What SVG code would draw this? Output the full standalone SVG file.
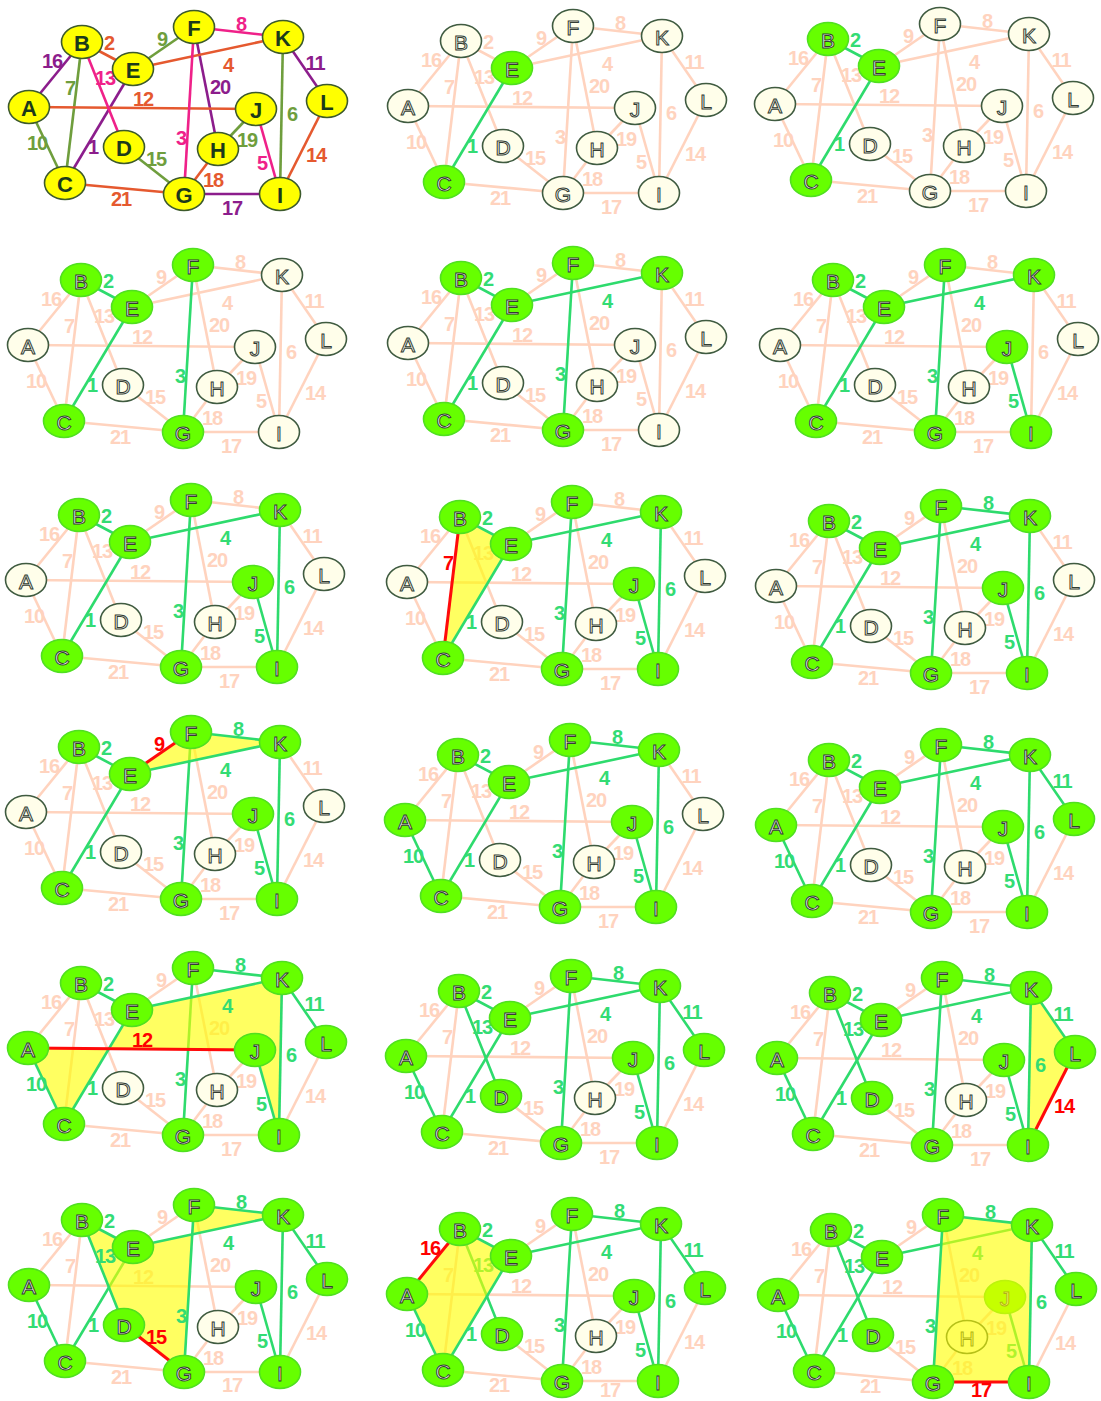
<svg xmlns="http://www.w3.org/2000/svg" width="1101" height="1401" viewBox="0 0 1101 1401">
<style>
text{font-family:"Liberation Sans",Arial,sans-serif;text-anchor:middle;dominant-baseline:central}
.lb text{font-size:20px;font-weight:bold;letter-spacing:-1px}
.p,.g,.cu,.co,.cr,.ck{stroke-width:2.6}
.p{stroke:#FFD3BE}.g{stroke:#2EDB6D}.r{stroke:#FF0A0A;stroke-width:3}
.cu{stroke:#8C1D8C}.co{stroke:#6F9E3D}.cr{stroke:#E5592F}.ck{stroke:#EF2189}
.tp{fill:#FFD3BE}.tg{fill:#33DC74}.tr{fill:#FF0000}
.tcu{fill:#8C1D8C}.tco{fill:#6F9E3D}.tcr{fill:#E5592F}.tck{fill:#EF2189}
.u ellipse{fill:#FFFEEA;stroke:#3F5B40;stroke-width:1.6}
.v ellipse{fill:#66FF00;stroke:#50E020;stroke-width:1.6}
.u text,.v text{font-size:21px;fill:#FFFFF4;stroke:#333D33;stroke-width:1}
.y ellipse{fill:#FFFF00;stroke:#3C5A2C;stroke-width:1.6}
.y text{font-size:22px;font-weight:bold;fill:#1B3A1B}
.hl{fill:#FFFF00;fill-opacity:.62}
</style>
<defs>
<line id="e1" x1="65" y1="182" x2="133" y2="68"/>
<line id="e2" x1="82" y1="41" x2="133" y2="68"/>
<line id="e3" x1="194" y1="26" x2="184" y2="193"/>
<line id="e4" x1="133" y1="68" x2="283" y2="36"/>
<line id="e5" x1="256" y1="108" x2="280" y2="193"/>
<line id="e6" x1="283" y1="36" x2="280" y2="193"/>
<line id="e7" x1="82" y1="41" x2="65" y2="182"/>
<line id="e8" x1="194" y1="26" x2="283" y2="36"/>
<line id="e9" x1="133" y1="68" x2="194" y2="26"/>
<line id="e10" x1="29" y1="106" x2="65" y2="182"/>
<line id="e11" x1="283" y1="36" x2="327" y2="100"/>
<line id="e12" x1="29" y1="106" x2="256" y2="108"/>
<line id="e13" x1="82" y1="41" x2="124" y2="146"/>
<line id="e14" x1="327" y1="100" x2="280" y2="193"/>
<line id="e15" x1="124" y1="146" x2="184" y2="193"/>
<line id="e16" x1="29" y1="106" x2="82" y2="41"/>
<line id="e17" x1="184" y1="193" x2="280" y2="193"/>
<line id="e18" x1="218" y1="148" x2="184" y2="193"/>
<line id="e19" x1="256" y1="108" x2="218" y2="148"/>
<line id="e20" x1="194" y1="26" x2="218" y2="148"/>
<line id="e21" x1="65" y1="182" x2="184" y2="193"/>
</defs>

<!-- Panel 1 -->
<g id="p1" transform="translate(0,1)">
<g id="p1-edges">
<g class="cu"><use href="#e16"/><use href="#e1"/><use href="#e20"/><use href="#e11"/><use href="#e17"/></g>
<g class="co"><use href="#e7"/><use href="#e9"/><use href="#e10"/><use href="#e6"/><use href="#e19"/><use href="#e15"/></g>
<g class="cr"><use href="#e2"/><use href="#e4"/><use href="#e12"/><use href="#e14"/><use href="#e18"/><use href="#e21"/></g>
<g class="ck"><use href="#e13"/><use href="#e8"/><use href="#e3"/><use href="#e5"/></g>
</g>
<g id="p1-labels" class="lb">
<g class="tcu"><text x="52" y="60">16</text><text x="93" y="146">1</text><text x="220" y="86">20</text><text x="315" y="62">11</text><text x="232" y="207">17</text></g>
<g class="tco"><text x="70" y="87">7</text><text x="162" y="38">9</text><text x="37" y="142">10</text><text x="292" y="113">6</text><text x="247" y="139">19</text><text x="156" y="158">15</text></g>
<g class="tcr"><text x="109" y="42">2</text><text x="228" y="64">4</text><text x="143" y="98">12</text><text x="316" y="154">14</text><text x="213" y="179">18</text><text x="121" y="198">21</text></g>
<g class="tck"><text x="105" y="77">13</text><text x="241" y="23">8</text><text x="181" y="137">3</text><text x="262" y="162">5</text></g>
</g>
<g id="p1-A" class="y"><ellipse cx="29" cy="106" rx="20.5" ry="16.5"/><text x="29" y="107">A</text></g>
<g id="p1-B" class="y"><ellipse cx="82" cy="41" rx="20.5" ry="16.5"/><text x="82" y="42">B</text></g>
<g id="p1-C" class="y"><ellipse cx="65" cy="182" rx="20.5" ry="16.5"/><text x="65" y="183">C</text></g>
<g id="p1-D" class="y"><ellipse cx="124" cy="146" rx="20.5" ry="16.5"/><text x="124" y="147">D</text></g>
<g id="p1-E" class="y"><ellipse cx="133" cy="68" rx="20.5" ry="16.5"/><text x="133" y="69">E</text></g>
<g id="p1-F" class="y"><ellipse cx="194" cy="26" rx="20.5" ry="16.5"/><text x="194" y="27">F</text></g>
<g id="p1-G" class="y"><ellipse cx="184" cy="193" rx="20.5" ry="16.5"/><text x="184" y="194">G</text></g>
<g id="p1-H" class="y"><ellipse cx="218" cy="148" rx="20.5" ry="16.5"/><text x="218" y="149">H</text></g>
<g id="p1-I" class="y"><ellipse cx="280" cy="193" rx="20.5" ry="16.5"/><text x="280" y="194">I</text></g>
<g id="p1-J" class="y"><ellipse cx="256" cy="108" rx="20.5" ry="16.5"/><text x="256" y="109">J</text></g>
<g id="p1-K" class="y"><ellipse cx="283" cy="36" rx="20.5" ry="16.5"/><text x="283" y="37">K</text></g>
<g id="p1-L" class="y"><ellipse cx="327" cy="100" rx="20.5" ry="16.5"/><text x="327" y="101">L</text></g>
</g>

<!-- Panel 2 -->
<g id="p2" transform="translate(379,0)">
<g id="p2-edges">
<g class="p"><use href="#e2"/><use href="#e3"/><use href="#e4"/><use href="#e5"/><use href="#e6"/><use href="#e7"/><use href="#e8"/><use href="#e9"/><use href="#e10"/><use href="#e11"/><use href="#e12"/><use href="#e13"/><use href="#e14"/><use href="#e15"/><use href="#e16"/><use href="#e17"/><use href="#e18"/><use href="#e19"/><use href="#e20"/><use href="#e21"/></g>
<g class="g"><use href="#e1"/></g>
</g>
<g id="p2-labels" class="lb">
<g class="tp"><text x="109" y="42">2</text><text x="181" y="137">3</text><text x="228" y="64">4</text><text x="262" y="162">5</text><text x="292" y="113">6</text><text x="70" y="87">7</text><text x="241" y="23">8</text><text x="162" y="38">9</text><text x="37" y="142">10</text><text x="315" y="62">11</text><text x="143" y="98">12</text><text x="105" y="77">13</text><text x="316" y="154">14</text><text x="156" y="158">15</text><text x="52" y="60">16</text><text x="232" y="207">17</text><text x="213" y="179">18</text><text x="247" y="139">19</text><text x="220" y="86">20</text><text x="121" y="198">21</text></g>
<g class="tg"><text x="93" y="146">1</text></g>
</g>
<g id="p2-A" class="u"><ellipse cx="29" cy="106" rx="20.5" ry="16.5"/><text x="29" y="107">A</text></g>
<g id="p2-B" class="u"><ellipse cx="82" cy="41" rx="20.5" ry="16.5"/><text x="82" y="42">B</text></g>
<g id="p2-C" class="v"><ellipse cx="65" cy="182" rx="20.5" ry="16.5"/><text x="65" y="183">C</text></g>
<g id="p2-D" class="u"><ellipse cx="124" cy="146" rx="20.5" ry="16.5"/><text x="124" y="147">D</text></g>
<g id="p2-E" class="v"><ellipse cx="133" cy="68" rx="20.5" ry="16.5"/><text x="133" y="69">E</text></g>
<g id="p2-F" class="u"><ellipse cx="194" cy="26" rx="20.5" ry="16.5"/><text x="194" y="27">F</text></g>
<g id="p2-G" class="u"><ellipse cx="184" cy="193" rx="20.5" ry="16.5"/><text x="184" y="194">G</text></g>
<g id="p2-H" class="u"><ellipse cx="218" cy="148" rx="20.5" ry="16.5"/><text x="218" y="149">H</text></g>
<g id="p2-I" class="u"><ellipse cx="280" cy="193" rx="20.5" ry="16.5"/><text x="280" y="194">I</text></g>
<g id="p2-J" class="u"><ellipse cx="256" cy="108" rx="20.5" ry="16.5"/><text x="256" y="109">J</text></g>
<g id="p2-K" class="u"><ellipse cx="283" cy="36" rx="20.5" ry="16.5"/><text x="283" y="37">K</text></g>
<g id="p2-L" class="u"><ellipse cx="327" cy="100" rx="20.5" ry="16.5"/><text x="327" y="101">L</text></g>
</g>

<!-- Panel 3 -->
<g id="p3" transform="translate(746,-2)">
<g id="p3-edges">
<g class="p"><use href="#e3"/><use href="#e4"/><use href="#e5"/><use href="#e6"/><use href="#e7"/><use href="#e8"/><use href="#e9"/><use href="#e10"/><use href="#e11"/><use href="#e12"/><use href="#e13"/><use href="#e14"/><use href="#e15"/><use href="#e16"/><use href="#e17"/><use href="#e18"/><use href="#e19"/><use href="#e20"/><use href="#e21"/></g>
<g class="g"><use href="#e1"/><use href="#e2"/></g>
</g>
<g id="p3-labels" class="lb">
<g class="tp"><text x="181" y="137">3</text><text x="228" y="64">4</text><text x="262" y="162">5</text><text x="292" y="113">6</text><text x="70" y="87">7</text><text x="241" y="23">8</text><text x="162" y="38">9</text><text x="37" y="142">10</text><text x="315" y="62">11</text><text x="143" y="98">12</text><text x="105" y="77">13</text><text x="316" y="154">14</text><text x="156" y="158">15</text><text x="52" y="60">16</text><text x="232" y="207">17</text><text x="213" y="179">18</text><text x="247" y="139">19</text><text x="220" y="86">20</text><text x="121" y="198">21</text></g>
<g class="tg"><text x="93" y="146">1</text><text x="109" y="42">2</text></g>
</g>
<g id="p3-A" class="u"><ellipse cx="29" cy="106" rx="20.5" ry="16.5"/><text x="29" y="107">A</text></g>
<g id="p3-B" class="v"><ellipse cx="82" cy="41" rx="20.5" ry="16.5"/><text x="82" y="42">B</text></g>
<g id="p3-C" class="v"><ellipse cx="65" cy="182" rx="20.5" ry="16.5"/><text x="65" y="183">C</text></g>
<g id="p3-D" class="u"><ellipse cx="124" cy="146" rx="20.5" ry="16.5"/><text x="124" y="147">D</text></g>
<g id="p3-E" class="v"><ellipse cx="133" cy="68" rx="20.5" ry="16.5"/><text x="133" y="69">E</text></g>
<g id="p3-F" class="u"><ellipse cx="194" cy="26" rx="20.5" ry="16.5"/><text x="194" y="27">F</text></g>
<g id="p3-G" class="u"><ellipse cx="184" cy="193" rx="20.5" ry="16.5"/><text x="184" y="194">G</text></g>
<g id="p3-H" class="u"><ellipse cx="218" cy="148" rx="20.5" ry="16.5"/><text x="218" y="149">H</text></g>
<g id="p3-I" class="u"><ellipse cx="280" cy="193" rx="20.5" ry="16.5"/><text x="280" y="194">I</text></g>
<g id="p3-J" class="u"><ellipse cx="256" cy="108" rx="20.5" ry="16.5"/><text x="256" y="109">J</text></g>
<g id="p3-K" class="u"><ellipse cx="283" cy="36" rx="20.5" ry="16.5"/><text x="283" y="37">K</text></g>
<g id="p3-L" class="u"><ellipse cx="327" cy="100" rx="20.5" ry="16.5"/><text x="327" y="101">L</text></g>
</g>

<!-- Panel 4 -->
<g id="p4" transform="translate(-1,239)">
<g id="p4-edges">
<g class="p"><use href="#e4"/><use href="#e5"/><use href="#e6"/><use href="#e7"/><use href="#e8"/><use href="#e9"/><use href="#e10"/><use href="#e11"/><use href="#e12"/><use href="#e13"/><use href="#e14"/><use href="#e15"/><use href="#e16"/><use href="#e17"/><use href="#e18"/><use href="#e19"/><use href="#e20"/><use href="#e21"/></g>
<g class="g"><use href="#e1"/><use href="#e2"/><use href="#e3"/></g>
</g>
<g id="p4-labels" class="lb">
<g class="tp"><text x="228" y="64">4</text><text x="262" y="162">5</text><text x="292" y="113">6</text><text x="70" y="87">7</text><text x="241" y="23">8</text><text x="162" y="38">9</text><text x="37" y="142">10</text><text x="315" y="62">11</text><text x="143" y="98">12</text><text x="105" y="77">13</text><text x="316" y="154">14</text><text x="156" y="158">15</text><text x="52" y="60">16</text><text x="232" y="207">17</text><text x="213" y="179">18</text><text x="247" y="139">19</text><text x="220" y="86">20</text><text x="121" y="198">21</text></g>
<g class="tg"><text x="93" y="146">1</text><text x="109" y="42">2</text><text x="181" y="137">3</text></g>
</g>
<g id="p4-A" class="u"><ellipse cx="29" cy="106" rx="20.5" ry="16.5"/><text x="29" y="107">A</text></g>
<g id="p4-B" class="v"><ellipse cx="82" cy="41" rx="20.5" ry="16.5"/><text x="82" y="42">B</text></g>
<g id="p4-C" class="v"><ellipse cx="65" cy="182" rx="20.5" ry="16.5"/><text x="65" y="183">C</text></g>
<g id="p4-D" class="u"><ellipse cx="124" cy="146" rx="20.5" ry="16.5"/><text x="124" y="147">D</text></g>
<g id="p4-E" class="v"><ellipse cx="133" cy="68" rx="20.5" ry="16.5"/><text x="133" y="69">E</text></g>
<g id="p4-F" class="v"><ellipse cx="194" cy="26" rx="20.5" ry="16.5"/><text x="194" y="27">F</text></g>
<g id="p4-G" class="v"><ellipse cx="184" cy="193" rx="20.5" ry="16.5"/><text x="184" y="194">G</text></g>
<g id="p4-H" class="u"><ellipse cx="218" cy="148" rx="20.5" ry="16.5"/><text x="218" y="149">H</text></g>
<g id="p4-I" class="u"><ellipse cx="280" cy="193" rx="20.5" ry="16.5"/><text x="280" y="194">I</text></g>
<g id="p4-J" class="u"><ellipse cx="256" cy="108" rx="20.5" ry="16.5"/><text x="256" y="109">J</text></g>
<g id="p4-K" class="u"><ellipse cx="283" cy="36" rx="20.5" ry="16.5"/><text x="283" y="37">K</text></g>
<g id="p4-L" class="u"><ellipse cx="327" cy="100" rx="20.5" ry="16.5"/><text x="327" y="101">L</text></g>
</g>

<!-- Panel 5 -->
<g id="p5" transform="translate(379,237)">
<g id="p5-edges">
<g class="p"><use href="#e5"/><use href="#e6"/><use href="#e7"/><use href="#e8"/><use href="#e9"/><use href="#e10"/><use href="#e11"/><use href="#e12"/><use href="#e13"/><use href="#e14"/><use href="#e15"/><use href="#e16"/><use href="#e17"/><use href="#e18"/><use href="#e19"/><use href="#e20"/><use href="#e21"/></g>
<g class="g"><use href="#e1"/><use href="#e2"/><use href="#e3"/><use href="#e4"/></g>
</g>
<g id="p5-labels" class="lb">
<g class="tp"><text x="262" y="162">5</text><text x="292" y="113">6</text><text x="70" y="87">7</text><text x="241" y="23">8</text><text x="162" y="38">9</text><text x="37" y="142">10</text><text x="315" y="62">11</text><text x="143" y="98">12</text><text x="105" y="77">13</text><text x="316" y="154">14</text><text x="156" y="158">15</text><text x="52" y="60">16</text><text x="232" y="207">17</text><text x="213" y="179">18</text><text x="247" y="139">19</text><text x="220" y="86">20</text><text x="121" y="198">21</text></g>
<g class="tg"><text x="93" y="146">1</text><text x="109" y="42">2</text><text x="181" y="137">3</text><text x="228" y="64">4</text></g>
</g>
<g id="p5-A" class="u"><ellipse cx="29" cy="106" rx="20.5" ry="16.5"/><text x="29" y="107">A</text></g>
<g id="p5-B" class="v"><ellipse cx="82" cy="41" rx="20.5" ry="16.5"/><text x="82" y="42">B</text></g>
<g id="p5-C" class="v"><ellipse cx="65" cy="182" rx="20.5" ry="16.5"/><text x="65" y="183">C</text></g>
<g id="p5-D" class="u"><ellipse cx="124" cy="146" rx="20.5" ry="16.5"/><text x="124" y="147">D</text></g>
<g id="p5-E" class="v"><ellipse cx="133" cy="68" rx="20.5" ry="16.5"/><text x="133" y="69">E</text></g>
<g id="p5-F" class="v"><ellipse cx="194" cy="26" rx="20.5" ry="16.5"/><text x="194" y="27">F</text></g>
<g id="p5-G" class="v"><ellipse cx="184" cy="193" rx="20.5" ry="16.5"/><text x="184" y="194">G</text></g>
<g id="p5-H" class="u"><ellipse cx="218" cy="148" rx="20.5" ry="16.5"/><text x="218" y="149">H</text></g>
<g id="p5-I" class="u"><ellipse cx="280" cy="193" rx="20.5" ry="16.5"/><text x="280" y="194">I</text></g>
<g id="p5-J" class="u"><ellipse cx="256" cy="108" rx="20.5" ry="16.5"/><text x="256" y="109">J</text></g>
<g id="p5-K" class="v"><ellipse cx="283" cy="36" rx="20.5" ry="16.5"/><text x="283" y="37">K</text></g>
<g id="p5-L" class="u"><ellipse cx="327" cy="100" rx="20.5" ry="16.5"/><text x="327" y="101">L</text></g>
</g>

<!-- Panel 6 -->
<g id="p6" transform="translate(751,239)">
<g id="p6-edges">
<g class="p"><use href="#e6"/><use href="#e7"/><use href="#e8"/><use href="#e9"/><use href="#e10"/><use href="#e11"/><use href="#e12"/><use href="#e13"/><use href="#e14"/><use href="#e15"/><use href="#e16"/><use href="#e17"/><use href="#e18"/><use href="#e19"/><use href="#e20"/><use href="#e21"/></g>
<g class="g"><use href="#e1"/><use href="#e2"/><use href="#e3"/><use href="#e4"/><use href="#e5"/></g>
</g>
<g id="p6-labels" class="lb">
<g class="tp"><text x="292" y="113">6</text><text x="70" y="87">7</text><text x="241" y="23">8</text><text x="162" y="38">9</text><text x="37" y="142">10</text><text x="315" y="62">11</text><text x="143" y="98">12</text><text x="105" y="77">13</text><text x="316" y="154">14</text><text x="156" y="158">15</text><text x="52" y="60">16</text><text x="232" y="207">17</text><text x="213" y="179">18</text><text x="247" y="139">19</text><text x="220" y="86">20</text><text x="121" y="198">21</text></g>
<g class="tg"><text x="93" y="146">1</text><text x="109" y="42">2</text><text x="181" y="137">3</text><text x="228" y="64">4</text><text x="262" y="162">5</text></g>
</g>
<g id="p6-A" class="u"><ellipse cx="29" cy="106" rx="20.5" ry="16.5"/><text x="29" y="107">A</text></g>
<g id="p6-B" class="v"><ellipse cx="82" cy="41" rx="20.5" ry="16.5"/><text x="82" y="42">B</text></g>
<g id="p6-C" class="v"><ellipse cx="65" cy="182" rx="20.5" ry="16.5"/><text x="65" y="183">C</text></g>
<g id="p6-D" class="u"><ellipse cx="124" cy="146" rx="20.5" ry="16.5"/><text x="124" y="147">D</text></g>
<g id="p6-E" class="v"><ellipse cx="133" cy="68" rx="20.5" ry="16.5"/><text x="133" y="69">E</text></g>
<g id="p6-F" class="v"><ellipse cx="194" cy="26" rx="20.5" ry="16.5"/><text x="194" y="27">F</text></g>
<g id="p6-G" class="v"><ellipse cx="184" cy="193" rx="20.5" ry="16.5"/><text x="184" y="194">G</text></g>
<g id="p6-H" class="u"><ellipse cx="218" cy="148" rx="20.5" ry="16.5"/><text x="218" y="149">H</text></g>
<g id="p6-I" class="v"><ellipse cx="280" cy="193" rx="20.5" ry="16.5"/><text x="280" y="194">I</text></g>
<g id="p6-J" class="v"><ellipse cx="256" cy="108" rx="20.5" ry="16.5"/><text x="256" y="109">J</text></g>
<g id="p6-K" class="v"><ellipse cx="283" cy="36" rx="20.5" ry="16.5"/><text x="283" y="37">K</text></g>
<g id="p6-L" class="u"><ellipse cx="327" cy="100" rx="20.5" ry="16.5"/><text x="327" y="101">L</text></g>
</g>

<!-- Panel 7 -->
<g id="p7" transform="translate(-3,474)">
<g id="p7-edges">
<g class="p"><use href="#e7"/><use href="#e8"/><use href="#e9"/><use href="#e10"/><use href="#e11"/><use href="#e12"/><use href="#e13"/><use href="#e14"/><use href="#e15"/><use href="#e16"/><use href="#e17"/><use href="#e18"/><use href="#e19"/><use href="#e20"/><use href="#e21"/></g>
<g class="g"><use href="#e1"/><use href="#e2"/><use href="#e3"/><use href="#e4"/><use href="#e5"/><use href="#e6"/></g>
</g>
<g id="p7-labels" class="lb">
<g class="tp"><text x="70" y="87">7</text><text x="241" y="23">8</text><text x="162" y="38">9</text><text x="37" y="142">10</text><text x="315" y="62">11</text><text x="143" y="98">12</text><text x="105" y="77">13</text><text x="316" y="154">14</text><text x="156" y="158">15</text><text x="52" y="60">16</text><text x="232" y="207">17</text><text x="213" y="179">18</text><text x="247" y="139">19</text><text x="220" y="86">20</text><text x="121" y="198">21</text></g>
<g class="tg"><text x="93" y="146">1</text><text x="109" y="42">2</text><text x="181" y="137">3</text><text x="228" y="64">4</text><text x="262" y="162">5</text><text x="292" y="113">6</text></g>
</g>
<g id="p7-A" class="u"><ellipse cx="29" cy="106" rx="20.5" ry="16.5"/><text x="29" y="107">A</text></g>
<g id="p7-B" class="v"><ellipse cx="82" cy="41" rx="20.5" ry="16.5"/><text x="82" y="42">B</text></g>
<g id="p7-C" class="v"><ellipse cx="65" cy="182" rx="20.5" ry="16.5"/><text x="65" y="183">C</text></g>
<g id="p7-D" class="u"><ellipse cx="124" cy="146" rx="20.5" ry="16.5"/><text x="124" y="147">D</text></g>
<g id="p7-E" class="v"><ellipse cx="133" cy="68" rx="20.5" ry="16.5"/><text x="133" y="69">E</text></g>
<g id="p7-F" class="v"><ellipse cx="194" cy="26" rx="20.5" ry="16.5"/><text x="194" y="27">F</text></g>
<g id="p7-G" class="v"><ellipse cx="184" cy="193" rx="20.5" ry="16.5"/><text x="184" y="194">G</text></g>
<g id="p7-H" class="u"><ellipse cx="218" cy="148" rx="20.5" ry="16.5"/><text x="218" y="149">H</text></g>
<g id="p7-I" class="v"><ellipse cx="280" cy="193" rx="20.5" ry="16.5"/><text x="280" y="194">I</text></g>
<g id="p7-J" class="v"><ellipse cx="256" cy="108" rx="20.5" ry="16.5"/><text x="256" y="109">J</text></g>
<g id="p7-K" class="v"><ellipse cx="283" cy="36" rx="20.5" ry="16.5"/><text x="283" y="37">K</text></g>
<g id="p7-L" class="u"><ellipse cx="327" cy="100" rx="20.5" ry="16.5"/><text x="327" y="101">L</text></g>
</g>

<!-- Panel 8 -->
<g id="p8" transform="translate(378,476)">
<g id="p8-edges">
<g class="p"><use href="#e8"/><use href="#e9"/><use href="#e10"/><use href="#e11"/><use href="#e12"/><use href="#e13"/><use href="#e14"/><use href="#e15"/><use href="#e16"/><use href="#e17"/><use href="#e18"/><use href="#e19"/><use href="#e20"/><use href="#e21"/></g>
<g class="g"><use href="#e3"/><use href="#e4"/><use href="#e5"/><use href="#e6"/></g>
</g>
<g id="p8-labels" class="lb">
<g class="tp"><text x="241" y="23">8</text><text x="162" y="38">9</text><text x="37" y="142">10</text><text x="315" y="62">11</text><text x="143" y="98">12</text><text x="105" y="77">13</text><text x="316" y="154">14</text><text x="156" y="158">15</text><text x="52" y="60">16</text><text x="232" y="207">17</text><text x="213" y="179">18</text><text x="247" y="139">19</text><text x="220" y="86">20</text><text x="121" y="198">21</text></g>
<g class="tg"><text x="181" y="137">3</text><text x="228" y="64">4</text><text x="262" y="162">5</text><text x="292" y="113">6</text></g>
</g>
<g id="p8-A" class="u"><ellipse cx="29" cy="106" rx="20.5" ry="16.5"/><text x="29" y="107">A</text></g>
<g id="p8-D" class="u"><ellipse cx="124" cy="146" rx="20.5" ry="16.5"/><text x="124" y="147">D</text></g>
<g id="p8-F" class="v"><ellipse cx="194" cy="26" rx="20.5" ry="16.5"/><text x="194" y="27">F</text></g>
<g id="p8-G" class="v"><ellipse cx="184" cy="193" rx="20.5" ry="16.5"/><text x="184" y="194">G</text></g>
<g id="p8-H" class="u"><ellipse cx="218" cy="148" rx="20.5" ry="16.5"/><text x="218" y="149">H</text></g>
<g id="p8-I" class="v"><ellipse cx="280" cy="193" rx="20.5" ry="16.5"/><text x="280" y="194">I</text></g>
<g id="p8-J" class="v"><ellipse cx="256" cy="108" rx="20.5" ry="16.5"/><text x="256" y="109">J</text></g>
<g id="p8-K" class="v"><ellipse cx="283" cy="36" rx="20.5" ry="16.5"/><text x="283" y="37">K</text></g>
<g id="p8-L" class="u"><ellipse cx="327" cy="100" rx="20.5" ry="16.5"/><text x="327" y="101">L</text></g>
<polygon class="hl" points="82,41 133,68 65,182"/>
<g id="p8-cycle"><g class="g"><use href="#e1"/><use href="#e2"/></g><use class="r" href="#e7"/></g>
<g id="p8-cycle-labels" class="lb"><g class="tg"><text x="93" y="146">1</text><text x="109" y="42">2</text></g><text class="tr" x="70" y="87">7</text></g>
<g id="p8-B" class="v"><ellipse cx="82" cy="41" rx="20.5" ry="16.5"/><text x="82" y="42">B</text></g>
<g id="p8-C" class="v"><ellipse cx="65" cy="182" rx="20.5" ry="16.5"/><text x="65" y="183">C</text></g>
<g id="p8-E" class="v"><ellipse cx="133" cy="68" rx="20.5" ry="16.5"/><text x="133" y="69">E</text></g>
</g>

<!-- Panel 9 -->
<g id="p9" transform="translate(747,480)">
<g id="p9-edges">
<g class="p"><use href="#e7"/><use href="#e9"/><use href="#e10"/><use href="#e11"/><use href="#e12"/><use href="#e13"/><use href="#e14"/><use href="#e15"/><use href="#e16"/><use href="#e17"/><use href="#e18"/><use href="#e19"/><use href="#e20"/><use href="#e21"/></g>
<g class="g"><use href="#e1"/><use href="#e2"/><use href="#e3"/><use href="#e4"/><use href="#e5"/><use href="#e6"/><use href="#e8"/></g>
</g>
<g id="p9-labels" class="lb">
<g class="tp"><text x="70" y="87">7</text><text x="162" y="38">9</text><text x="37" y="142">10</text><text x="315" y="62">11</text><text x="143" y="98">12</text><text x="105" y="77">13</text><text x="316" y="154">14</text><text x="156" y="158">15</text><text x="52" y="60">16</text><text x="232" y="207">17</text><text x="213" y="179">18</text><text x="247" y="139">19</text><text x="220" y="86">20</text><text x="121" y="198">21</text></g>
<g class="tg"><text x="93" y="146">1</text><text x="109" y="42">2</text><text x="181" y="137">3</text><text x="228" y="64">4</text><text x="262" y="162">5</text><text x="292" y="113">6</text><text x="241" y="23">8</text></g>
</g>
<g id="p9-A" class="u"><ellipse cx="29" cy="106" rx="20.5" ry="16.5"/><text x="29" y="107">A</text></g>
<g id="p9-B" class="v"><ellipse cx="82" cy="41" rx="20.5" ry="16.5"/><text x="82" y="42">B</text></g>
<g id="p9-C" class="v"><ellipse cx="65" cy="182" rx="20.5" ry="16.5"/><text x="65" y="183">C</text></g>
<g id="p9-D" class="u"><ellipse cx="124" cy="146" rx="20.5" ry="16.5"/><text x="124" y="147">D</text></g>
<g id="p9-E" class="v"><ellipse cx="133" cy="68" rx="20.5" ry="16.5"/><text x="133" y="69">E</text></g>
<g id="p9-F" class="v"><ellipse cx="194" cy="26" rx="20.5" ry="16.5"/><text x="194" y="27">F</text></g>
<g id="p9-G" class="v"><ellipse cx="184" cy="193" rx="20.5" ry="16.5"/><text x="184" y="194">G</text></g>
<g id="p9-H" class="u"><ellipse cx="218" cy="148" rx="20.5" ry="16.5"/><text x="218" y="149">H</text></g>
<g id="p9-I" class="v"><ellipse cx="280" cy="193" rx="20.5" ry="16.5"/><text x="280" y="194">I</text></g>
<g id="p9-J" class="v"><ellipse cx="256" cy="108" rx="20.5" ry="16.5"/><text x="256" y="109">J</text></g>
<g id="p9-K" class="v"><ellipse cx="283" cy="36" rx="20.5" ry="16.5"/><text x="283" y="37">K</text></g>
<g id="p9-L" class="u"><ellipse cx="327" cy="100" rx="20.5" ry="16.5"/><text x="327" y="101">L</text></g>
</g>

<!-- Panel 10 -->
<g id="p10" transform="translate(-3,706)">
<g id="p10-edges">
<g class="p"><use href="#e7"/><use href="#e10"/><use href="#e11"/><use href="#e12"/><use href="#e13"/><use href="#e14"/><use href="#e15"/><use href="#e16"/><use href="#e17"/><use href="#e18"/><use href="#e19"/><use href="#e20"/><use href="#e21"/></g>
<g class="g"><use href="#e1"/><use href="#e2"/><use href="#e3"/><use href="#e5"/><use href="#e6"/></g>
</g>
<g id="p10-labels" class="lb">
<g class="tp"><text x="70" y="87">7</text><text x="37" y="142">10</text><text x="315" y="62">11</text><text x="143" y="98">12</text><text x="105" y="77">13</text><text x="316" y="154">14</text><text x="156" y="158">15</text><text x="52" y="60">16</text><text x="232" y="207">17</text><text x="213" y="179">18</text><text x="247" y="139">19</text><text x="220" y="86">20</text><text x="121" y="198">21</text></g>
<g class="tg"><text x="93" y="146">1</text><text x="109" y="42">2</text><text x="181" y="137">3</text><text x="262" y="162">5</text><text x="292" y="113">6</text></g>
</g>
<g id="p10-A" class="u"><ellipse cx="29" cy="106" rx="20.5" ry="16.5"/><text x="29" y="107">A</text></g>
<g id="p10-B" class="v"><ellipse cx="82" cy="41" rx="20.5" ry="16.5"/><text x="82" y="42">B</text></g>
<g id="p10-C" class="v"><ellipse cx="65" cy="182" rx="20.5" ry="16.5"/><text x="65" y="183">C</text></g>
<g id="p10-D" class="u"><ellipse cx="124" cy="146" rx="20.5" ry="16.5"/><text x="124" y="147">D</text></g>
<g id="p10-G" class="v"><ellipse cx="184" cy="193" rx="20.5" ry="16.5"/><text x="184" y="194">G</text></g>
<g id="p10-H" class="u"><ellipse cx="218" cy="148" rx="20.5" ry="16.5"/><text x="218" y="149">H</text></g>
<g id="p10-I" class="v"><ellipse cx="280" cy="193" rx="20.5" ry="16.5"/><text x="280" y="194">I</text></g>
<g id="p10-J" class="v"><ellipse cx="256" cy="108" rx="20.5" ry="16.5"/><text x="256" y="109">J</text></g>
<g id="p10-L" class="u"><ellipse cx="327" cy="100" rx="20.5" ry="16.5"/><text x="327" y="101">L</text></g>
<polygon class="hl" points="133,68 194,26 283,36"/>
<g id="p10-cycle"><g class="g"><use href="#e4"/><use href="#e8"/></g><use class="r" href="#e9"/></g>
<g id="p10-cycle-labels" class="lb"><g class="tg"><text x="228" y="64">4</text><text x="241" y="23">8</text></g><text class="tr" x="162" y="38">9</text></g>
<g id="p10-E" class="v"><ellipse cx="133" cy="68" rx="20.5" ry="16.5"/><text x="133" y="69">E</text></g>
<g id="p10-F" class="v"><ellipse cx="194" cy="26" rx="20.5" ry="16.5"/><text x="194" y="27">F</text></g>
<g id="p10-K" class="v"><ellipse cx="283" cy="36" rx="20.5" ry="16.5"/><text x="283" y="37">K</text></g>
</g>

<!-- Panel 11 -->
<g id="p11" transform="translate(376,714)">
<g id="p11-edges">
<g class="p"><use href="#e7"/><use href="#e9"/><use href="#e11"/><use href="#e12"/><use href="#e13"/><use href="#e14"/><use href="#e15"/><use href="#e16"/><use href="#e17"/><use href="#e18"/><use href="#e19"/><use href="#e20"/><use href="#e21"/></g>
<g class="g"><use href="#e1"/><use href="#e2"/><use href="#e3"/><use href="#e4"/><use href="#e5"/><use href="#e6"/><use href="#e8"/><use href="#e10"/></g>
</g>
<g id="p11-labels" class="lb">
<g class="tp"><text x="70" y="87">7</text><text x="162" y="38">9</text><text x="315" y="62">11</text><text x="143" y="98">12</text><text x="105" y="77">13</text><text x="316" y="154">14</text><text x="156" y="158">15</text><text x="52" y="60">16</text><text x="232" y="207">17</text><text x="213" y="179">18</text><text x="247" y="139">19</text><text x="220" y="86">20</text><text x="121" y="198">21</text></g>
<g class="tg"><text x="93" y="146">1</text><text x="109" y="42">2</text><text x="181" y="137">3</text><text x="228" y="64">4</text><text x="262" y="162">5</text><text x="292" y="113">6</text><text x="241" y="23">8</text><text x="37" y="142">10</text></g>
</g>
<g id="p11-A" class="v"><ellipse cx="29" cy="106" rx="20.5" ry="16.5"/><text x="29" y="107">A</text></g>
<g id="p11-B" class="v"><ellipse cx="82" cy="41" rx="20.5" ry="16.5"/><text x="82" y="42">B</text></g>
<g id="p11-C" class="v"><ellipse cx="65" cy="182" rx="20.5" ry="16.5"/><text x="65" y="183">C</text></g>
<g id="p11-D" class="u"><ellipse cx="124" cy="146" rx="20.5" ry="16.5"/><text x="124" y="147">D</text></g>
<g id="p11-E" class="v"><ellipse cx="133" cy="68" rx="20.5" ry="16.5"/><text x="133" y="69">E</text></g>
<g id="p11-F" class="v"><ellipse cx="194" cy="26" rx="20.5" ry="16.5"/><text x="194" y="27">F</text></g>
<g id="p11-G" class="v"><ellipse cx="184" cy="193" rx="20.5" ry="16.5"/><text x="184" y="194">G</text></g>
<g id="p11-H" class="u"><ellipse cx="218" cy="148" rx="20.5" ry="16.5"/><text x="218" y="149">H</text></g>
<g id="p11-I" class="v"><ellipse cx="280" cy="193" rx="20.5" ry="16.5"/><text x="280" y="194">I</text></g>
<g id="p11-J" class="v"><ellipse cx="256" cy="108" rx="20.5" ry="16.5"/><text x="256" y="109">J</text></g>
<g id="p11-K" class="v"><ellipse cx="283" cy="36" rx="20.5" ry="16.5"/><text x="283" y="37">K</text></g>
<g id="p11-L" class="u"><ellipse cx="327" cy="100" rx="20.5" ry="16.5"/><text x="327" y="101">L</text></g>
</g>

<!-- Panel 12 -->
<g id="p12" transform="translate(747,719)">
<g id="p12-edges">
<g class="p"><use href="#e7"/><use href="#e9"/><use href="#e12"/><use href="#e13"/><use href="#e14"/><use href="#e15"/><use href="#e16"/><use href="#e17"/><use href="#e18"/><use href="#e19"/><use href="#e20"/><use href="#e21"/></g>
<g class="g"><use href="#e1"/><use href="#e2"/><use href="#e3"/><use href="#e4"/><use href="#e5"/><use href="#e6"/><use href="#e8"/><use href="#e10"/><use href="#e11"/></g>
</g>
<g id="p12-labels" class="lb">
<g class="tp"><text x="70" y="87">7</text><text x="162" y="38">9</text><text x="143" y="98">12</text><text x="105" y="77">13</text><text x="316" y="154">14</text><text x="156" y="158">15</text><text x="52" y="60">16</text><text x="232" y="207">17</text><text x="213" y="179">18</text><text x="247" y="139">19</text><text x="220" y="86">20</text><text x="121" y="198">21</text></g>
<g class="tg"><text x="93" y="146">1</text><text x="109" y="42">2</text><text x="181" y="137">3</text><text x="228" y="64">4</text><text x="262" y="162">5</text><text x="292" y="113">6</text><text x="241" y="23">8</text><text x="37" y="142">10</text><text x="315" y="62">11</text></g>
</g>
<g id="p12-A" class="v"><ellipse cx="29" cy="106" rx="20.5" ry="16.5"/><text x="29" y="107">A</text></g>
<g id="p12-B" class="v"><ellipse cx="82" cy="41" rx="20.5" ry="16.5"/><text x="82" y="42">B</text></g>
<g id="p12-C" class="v"><ellipse cx="65" cy="182" rx="20.5" ry="16.5"/><text x="65" y="183">C</text></g>
<g id="p12-D" class="u"><ellipse cx="124" cy="146" rx="20.5" ry="16.5"/><text x="124" y="147">D</text></g>
<g id="p12-E" class="v"><ellipse cx="133" cy="68" rx="20.5" ry="16.5"/><text x="133" y="69">E</text></g>
<g id="p12-F" class="v"><ellipse cx="194" cy="26" rx="20.5" ry="16.5"/><text x="194" y="27">F</text></g>
<g id="p12-G" class="v"><ellipse cx="184" cy="193" rx="20.5" ry="16.5"/><text x="184" y="194">G</text></g>
<g id="p12-H" class="u"><ellipse cx="218" cy="148" rx="20.5" ry="16.5"/><text x="218" y="149">H</text></g>
<g id="p12-I" class="v"><ellipse cx="280" cy="193" rx="20.5" ry="16.5"/><text x="280" y="194">I</text></g>
<g id="p12-J" class="v"><ellipse cx="256" cy="108" rx="20.5" ry="16.5"/><text x="256" y="109">J</text></g>
<g id="p12-K" class="v"><ellipse cx="283" cy="36" rx="20.5" ry="16.5"/><text x="283" y="37">K</text></g>
<g id="p12-L" class="v"><ellipse cx="327" cy="100" rx="20.5" ry="16.5"/><text x="327" y="101">L</text></g>
</g>

<!-- Panel 13 -->
<g id="p13" transform="translate(-1,942)">
<g id="p13-edges">
<g class="p"><use href="#e7"/><use href="#e9"/><use href="#e13"/><use href="#e14"/><use href="#e15"/><use href="#e16"/><use href="#e17"/><use href="#e18"/><use href="#e19"/><use href="#e20"/><use href="#e21"/></g>
<g class="g"><use href="#e2"/><use href="#e3"/><use href="#e8"/><use href="#e11"/></g>
</g>
<g id="p13-labels" class="lb">
<g class="tp"><text x="70" y="87">7</text><text x="162" y="38">9</text><text x="105" y="77">13</text><text x="316" y="154">14</text><text x="156" y="158">15</text><text x="52" y="60">16</text><text x="232" y="207">17</text><text x="213" y="179">18</text><text x="247" y="139">19</text><text x="220" y="86">20</text><text x="121" y="198">21</text></g>
<g class="tg"><text x="109" y="42">2</text><text x="181" y="137">3</text><text x="241" y="23">8</text><text x="315" y="62">11</text></g>
</g>
<g id="p13-B" class="v"><ellipse cx="82" cy="41" rx="20.5" ry="16.5"/><text x="82" y="42">B</text></g>
<g id="p13-D" class="u"><ellipse cx="124" cy="146" rx="20.5" ry="16.5"/><text x="124" y="147">D</text></g>
<g id="p13-F" class="v"><ellipse cx="194" cy="26" rx="20.5" ry="16.5"/><text x="194" y="27">F</text></g>
<g id="p13-G" class="v"><ellipse cx="184" cy="193" rx="20.5" ry="16.5"/><text x="184" y="194">G</text></g>
<g id="p13-H" class="u"><ellipse cx="218" cy="148" rx="20.5" ry="16.5"/><text x="218" y="149">H</text></g>
<g id="p13-L" class="v"><ellipse cx="327" cy="100" rx="20.5" ry="16.5"/><text x="327" y="101">L</text></g>
<polygon class="hl" points="29,106 65,182 133,68 283,36 280,193 256,108"/>
<g id="p13-cycle"><g class="g"><use href="#e1"/><use href="#e4"/><use href="#e5"/><use href="#e6"/><use href="#e10"/></g><use class="r" href="#e12"/></g>
<g id="p13-cycle-labels" class="lb"><g class="tg"><text x="93" y="146">1</text><text x="228" y="64">4</text><text x="262" y="162">5</text><text x="292" y="113">6</text><text x="37" y="142">10</text></g><text class="tr" x="143" y="98">12</text></g>
<g id="p13-A" class="v"><ellipse cx="29" cy="106" rx="20.5" ry="16.5"/><text x="29" y="107">A</text></g>
<g id="p13-C" class="v"><ellipse cx="65" cy="182" rx="20.5" ry="16.5"/><text x="65" y="183">C</text></g>
<g id="p13-E" class="v"><ellipse cx="133" cy="68" rx="20.5" ry="16.5"/><text x="133" y="69">E</text></g>
<g id="p13-I" class="v"><ellipse cx="280" cy="193" rx="20.5" ry="16.5"/><text x="280" y="194">I</text></g>
<g id="p13-J" class="v"><ellipse cx="256" cy="108" rx="20.5" ry="16.5"/><text x="256" y="109">J</text></g>
<g id="p13-K" class="v"><ellipse cx="283" cy="36" rx="20.5" ry="16.5"/><text x="283" y="37">K</text></g>
</g>

<!-- Panel 14 -->
<g id="p14" transform="translate(377,950)">
<g id="p14-edges">
<g class="p"><use href="#e7"/><use href="#e9"/><use href="#e12"/><use href="#e14"/><use href="#e15"/><use href="#e16"/><use href="#e17"/><use href="#e18"/><use href="#e19"/><use href="#e20"/><use href="#e21"/></g>
<g class="g"><use href="#e1"/><use href="#e2"/><use href="#e3"/><use href="#e4"/><use href="#e5"/><use href="#e6"/><use href="#e8"/><use href="#e10"/><use href="#e11"/><use href="#e13"/></g>
</g>
<g id="p14-labels" class="lb">
<g class="tp"><text x="70" y="87">7</text><text x="162" y="38">9</text><text x="143" y="98">12</text><text x="316" y="154">14</text><text x="156" y="158">15</text><text x="52" y="60">16</text><text x="232" y="207">17</text><text x="213" y="179">18</text><text x="247" y="139">19</text><text x="220" y="86">20</text><text x="121" y="198">21</text></g>
<g class="tg"><text x="93" y="146">1</text><text x="109" y="42">2</text><text x="181" y="137">3</text><text x="228" y="64">4</text><text x="262" y="162">5</text><text x="292" y="113">6</text><text x="241" y="23">8</text><text x="37" y="142">10</text><text x="315" y="62">11</text><text x="105" y="77">13</text></g>
</g>
<g id="p14-A" class="v"><ellipse cx="29" cy="106" rx="20.5" ry="16.5"/><text x="29" y="107">A</text></g>
<g id="p14-B" class="v"><ellipse cx="82" cy="41" rx="20.5" ry="16.5"/><text x="82" y="42">B</text></g>
<g id="p14-C" class="v"><ellipse cx="65" cy="182" rx="20.5" ry="16.5"/><text x="65" y="183">C</text></g>
<g id="p14-D" class="v"><ellipse cx="124" cy="146" rx="20.5" ry="16.5"/><text x="124" y="147">D</text></g>
<g id="p14-E" class="v"><ellipse cx="133" cy="68" rx="20.5" ry="16.5"/><text x="133" y="69">E</text></g>
<g id="p14-F" class="v"><ellipse cx="194" cy="26" rx="20.5" ry="16.5"/><text x="194" y="27">F</text></g>
<g id="p14-G" class="v"><ellipse cx="184" cy="193" rx="20.5" ry="16.5"/><text x="184" y="194">G</text></g>
<g id="p14-H" class="u"><ellipse cx="218" cy="148" rx="20.5" ry="16.5"/><text x="218" y="149">H</text></g>
<g id="p14-I" class="v"><ellipse cx="280" cy="193" rx="20.5" ry="16.5"/><text x="280" y="194">I</text></g>
<g id="p14-J" class="v"><ellipse cx="256" cy="108" rx="20.5" ry="16.5"/><text x="256" y="109">J</text></g>
<g id="p14-K" class="v"><ellipse cx="283" cy="36" rx="20.5" ry="16.5"/><text x="283" y="37">K</text></g>
<g id="p14-L" class="v"><ellipse cx="327" cy="100" rx="20.5" ry="16.5"/><text x="327" y="101">L</text></g>
</g>

<!-- Panel 15 -->
<g id="p15" transform="translate(748,952)">
<g id="p15-edges">
<g class="p"><use href="#e7"/><use href="#e9"/><use href="#e12"/><use href="#e15"/><use href="#e16"/><use href="#e17"/><use href="#e18"/><use href="#e19"/><use href="#e20"/><use href="#e21"/></g>
<g class="g"><use href="#e1"/><use href="#e2"/><use href="#e3"/><use href="#e4"/><use href="#e5"/><use href="#e8"/><use href="#e10"/><use href="#e13"/></g>
</g>
<g id="p15-labels" class="lb">
<g class="tp"><text x="70" y="87">7</text><text x="162" y="38">9</text><text x="143" y="98">12</text><text x="156" y="158">15</text><text x="52" y="60">16</text><text x="232" y="207">17</text><text x="213" y="179">18</text><text x="247" y="139">19</text><text x="220" y="86">20</text><text x="121" y="198">21</text></g>
<g class="tg"><text x="93" y="146">1</text><text x="109" y="42">2</text><text x="181" y="137">3</text><text x="228" y="64">4</text><text x="262" y="162">5</text><text x="241" y="23">8</text><text x="37" y="142">10</text><text x="105" y="77">13</text></g>
</g>
<g id="p15-A" class="v"><ellipse cx="29" cy="106" rx="20.5" ry="16.5"/><text x="29" y="107">A</text></g>
<g id="p15-B" class="v"><ellipse cx="82" cy="41" rx="20.5" ry="16.5"/><text x="82" y="42">B</text></g>
<g id="p15-C" class="v"><ellipse cx="65" cy="182" rx="20.5" ry="16.5"/><text x="65" y="183">C</text></g>
<g id="p15-D" class="v"><ellipse cx="124" cy="146" rx="20.5" ry="16.5"/><text x="124" y="147">D</text></g>
<g id="p15-E" class="v"><ellipse cx="133" cy="68" rx="20.5" ry="16.5"/><text x="133" y="69">E</text></g>
<g id="p15-F" class="v"><ellipse cx="194" cy="26" rx="20.5" ry="16.5"/><text x="194" y="27">F</text></g>
<g id="p15-G" class="v"><ellipse cx="184" cy="193" rx="20.5" ry="16.5"/><text x="184" y="194">G</text></g>
<g id="p15-H" class="u"><ellipse cx="218" cy="148" rx="20.5" ry="16.5"/><text x="218" y="149">H</text></g>
<g id="p15-J" class="v"><ellipse cx="256" cy="108" rx="20.5" ry="16.5"/><text x="256" y="109">J</text></g>
<polygon class="hl" points="283,36 327,100 280,193"/>
<g id="p15-cycle"><g class="g"><use href="#e6"/><use href="#e11"/></g><use class="r" href="#e14"/></g>
<g id="p15-cycle-labels" class="lb"><g class="tg"><text x="292" y="113">6</text><text x="315" y="62">11</text></g><text class="tr" x="316" y="154">14</text></g>
<g id="p15-I" class="v"><ellipse cx="280" cy="193" rx="20.5" ry="16.5"/><text x="280" y="194">I</text></g>
<g id="p15-K" class="v"><ellipse cx="283" cy="36" rx="20.5" ry="16.5"/><text x="283" y="37">K</text></g>
<g id="p15-L" class="v"><ellipse cx="327" cy="100" rx="20.5" ry="16.5"/><text x="327" y="101">L</text></g>
</g>

<!-- Panel 16 -->
<g id="p16" transform="translate(0,1179)">
<g id="p16-edges">
<g class="p"><use href="#e7"/><use href="#e9"/><use href="#e12"/><use href="#e14"/><use href="#e16"/><use href="#e17"/><use href="#e18"/><use href="#e19"/><use href="#e20"/><use href="#e21"/></g>
<g class="g"><use href="#e1"/><use href="#e5"/><use href="#e6"/><use href="#e10"/><use href="#e11"/></g>
</g>
<g id="p16-labels" class="lb">
<g class="tp"><text x="70" y="87">7</text><text x="162" y="38">9</text><text x="143" y="98">12</text><text x="316" y="154">14</text><text x="52" y="60">16</text><text x="232" y="206">17</text><text x="213" y="179">18</text><text x="247" y="139">19</text><text x="220" y="86">20</text><text x="121" y="198">21</text></g>
<g class="tg"><text x="93" y="146">1</text><text x="262" y="162">5</text><text x="292" y="113">6</text><text x="37" y="142">10</text><text x="315" y="62">11</text></g>
</g>
<g id="p16-A" class="v"><ellipse cx="29" cy="106" rx="20.5" ry="16.5"/><text x="29" y="107">A</text></g>
<g id="p16-C" class="v"><ellipse cx="65" cy="182" rx="20.5" ry="16.5"/><text x="65" y="183">C</text></g>
<g id="p16-H" class="u"><ellipse cx="218" cy="148" rx="20.5" ry="16.5"/><text x="218" y="149">H</text></g>
<g id="p16-I" class="v"><ellipse cx="280" cy="193" rx="20.5" ry="16.5"/><text x="280" y="194">I</text></g>
<g id="p16-J" class="v"><ellipse cx="256" cy="108" rx="20.5" ry="16.5"/><text x="256" y="109">J</text></g>
<g id="p16-L" class="v"><ellipse cx="327" cy="100" rx="20.5" ry="16.5"/><text x="327" y="101">L</text></g>
<polygon class="hl" points="82,41 133,68 283,36 194,26 184,193 124,146"/>
<g id="p16-cycle"><g class="g"><use href="#e2"/><use href="#e3"/><use href="#e4"/><use href="#e8"/><use href="#e13"/></g><use class="r" href="#e15"/></g>
<g id="p16-cycle-labels" class="lb"><g class="tg"><text x="109" y="42">2</text><text x="181" y="137">3</text><text x="228" y="64">4</text><text x="241" y="23">8</text><text x="105" y="77">13</text></g><text class="tr" x="156" y="158">15</text></g>
<g id="p16-B" class="v"><ellipse cx="82" cy="41" rx="20.5" ry="16.5"/><text x="82" y="42">B</text></g>
<g id="p16-D" class="v"><ellipse cx="124" cy="146" rx="20.5" ry="16.5"/><text x="124" y="147">D</text></g>
<g id="p16-E" class="v"><ellipse cx="133" cy="68" rx="20.5" ry="16.5"/><text x="133" y="69">E</text></g>
<g id="p16-F" class="v"><ellipse cx="194" cy="26" rx="20.5" ry="16.5"/><text x="194" y="27">F</text></g>
<g id="p16-G" class="v"><ellipse cx="184" cy="193" rx="20.5" ry="16.5"/><text x="184" y="194">G</text></g>
<g id="p16-K" class="v"><ellipse cx="283" cy="36" rx="20.5" ry="16.5"/><text x="283" y="37">K</text></g>
</g>

<!-- Panel 17 -->
<g id="p17" transform="translate(378,1188)">
<g id="p17-edges">
<g class="p"><use href="#e7"/><use href="#e9"/><use href="#e12"/><use href="#e14"/><use href="#e15"/><use href="#e17"/><use href="#e18"/><use href="#e19"/><use href="#e20"/><use href="#e21"/></g>
<g class="g"><use href="#e3"/><use href="#e4"/><use href="#e5"/><use href="#e6"/><use href="#e8"/><use href="#e11"/><use href="#e13"/></g>
</g>
<g id="p17-labels" class="lb">
<g class="tp"><text x="70" y="87">7</text><text x="162" y="38">9</text><text x="143" y="98">12</text><text x="316" y="154">14</text><text x="156" y="158">15</text><text x="232" y="202">17</text><text x="213" y="179">18</text><text x="247" y="139">19</text><text x="220" y="86">20</text><text x="121" y="197">21</text></g>
<g class="tg"><text x="181" y="137">3</text><text x="228" y="64">4</text><text x="262" y="162">5</text><text x="292" y="113">6</text><text x="241" y="23">8</text><text x="315" y="62">11</text><text x="105" y="77">13</text></g>
</g>
<g id="p17-D" class="v"><ellipse cx="124" cy="146" rx="20.5" ry="16.5"/><text x="124" y="147">D</text></g>
<g id="p17-F" class="v"><ellipse cx="194" cy="26" rx="20.5" ry="16.5"/><text x="194" y="27">F</text></g>
<g id="p17-G" class="v"><ellipse cx="184" cy="193" rx="20.5" ry="16.5"/><text x="184" y="194">G</text></g>
<g id="p17-H" class="u"><ellipse cx="218" cy="148" rx="20.5" ry="16.5"/><text x="218" y="149">H</text></g>
<g id="p17-I" class="v"><ellipse cx="280" cy="193" rx="20.5" ry="16.5"/><text x="280" y="194">I</text></g>
<g id="p17-J" class="v"><ellipse cx="256" cy="108" rx="20.5" ry="16.5"/><text x="256" y="109">J</text></g>
<g id="p17-K" class="v"><ellipse cx="283" cy="36" rx="20.5" ry="16.5"/><text x="283" y="37">K</text></g>
<g id="p17-L" class="v"><ellipse cx="327" cy="100" rx="20.5" ry="16.5"/><text x="327" y="101">L</text></g>
<polygon class="hl" points="29,106 82,41 133,68 65,182"/>
<g id="p17-cycle"><g class="g"><use href="#e1"/><use href="#e2"/><use href="#e10"/></g><use class="r" href="#e16"/></g>
<g id="p17-cycle-labels" class="lb"><g class="tg"><text x="93" y="146">1</text><text x="109" y="42">2</text><text x="37" y="142">10</text></g><text class="tr" x="52" y="60">16</text></g>
<g id="p17-A" class="v"><ellipse cx="29" cy="106" rx="20.5" ry="16.5"/><text x="29" y="107">A</text></g>
<g id="p17-B" class="v"><ellipse cx="82" cy="41" rx="20.5" ry="16.5"/><text x="82" y="42">B</text></g>
<g id="p17-C" class="v"><ellipse cx="65" cy="182" rx="20.5" ry="16.5"/><text x="65" y="183">C</text></g>
<g id="p17-E" class="v"><ellipse cx="133" cy="68" rx="20.5" ry="16.5"/><text x="133" y="69">E</text></g>
</g>

<!-- Panel 18 -->
<g id="p18" transform="translate(749,1189)">
<g id="p18-edges">
<g class="p"><use href="#e7"/><use href="#e9"/><use href="#e12"/><use href="#e14"/><use href="#e15"/><use href="#e16"/><use href="#e18"/><use href="#e19"/><use href="#e20"/><use href="#e21"/></g>
<g class="g"><use href="#e1"/><use href="#e2"/><use href="#e4"/><use href="#e5"/><use href="#e10"/><use href="#e11"/><use href="#e13"/></g>
</g>
<g id="p18-labels" class="lb">
<g class="tp"><text x="70" y="87">7</text><text x="162" y="38">9</text><text x="143" y="98">12</text><text x="316" y="154">14</text><text x="156" y="158">15</text><text x="52" y="60">16</text><text x="213" y="179">18</text><text x="247" y="139">19</text><text x="220" y="86">20</text><text x="121" y="197">21</text></g>
<g class="tg"><text x="93" y="146">1</text><text x="109" y="42">2</text><text x="228" y="64">4</text><text x="262" y="162">5</text><text x="37" y="142">10</text><text x="315" y="62">11</text><text x="105" y="77">13</text></g>
</g>
<g id="p18-A" class="v"><ellipse cx="29" cy="106" rx="20.5" ry="16.5"/><text x="29" y="107">A</text></g>
<g id="p18-B" class="v"><ellipse cx="82" cy="41" rx="20.5" ry="16.5"/><text x="82" y="42">B</text></g>
<g id="p18-C" class="v"><ellipse cx="65" cy="182" rx="20.5" ry="16.5"/><text x="65" y="183">C</text></g>
<g id="p18-D" class="v"><ellipse cx="124" cy="146" rx="20.5" ry="16.5"/><text x="124" y="147">D</text></g>
<g id="p18-E" class="v"><ellipse cx="133" cy="68" rx="20.5" ry="16.5"/><text x="133" y="69">E</text></g>
<g id="p18-H" class="u"><ellipse cx="218" cy="148" rx="20.5" ry="16.5"/><text x="218" y="149">H</text></g>
<g id="p18-J" class="v"><ellipse cx="256" cy="108" rx="20.5" ry="16.5"/><text x="256" y="109">J</text></g>
<g id="p18-L" class="v"><ellipse cx="327" cy="100" rx="20.5" ry="16.5"/><text x="327" y="101">L</text></g>
<polygon class="hl" points="184,193 194,26 283,36 280,193"/>
<g id="p18-cycle"><g class="g"><use href="#e3"/><use href="#e6"/><use href="#e8"/></g><use class="r" href="#e17"/></g>
<g id="p18-cycle-labels" class="lb"><g class="tg"><text x="181" y="137">3</text><text x="292" y="113">6</text><text x="241" y="23">8</text></g><text class="tr" x="232" y="201">17</text></g>
<g id="p18-F" class="v"><ellipse cx="194" cy="26" rx="20.5" ry="16.5"/><text x="194" y="27">F</text></g>
<g id="p18-G" class="v"><ellipse cx="184" cy="193" rx="20.5" ry="16.5"/><text x="184" y="194">G</text></g>
<g id="p18-I" class="v"><ellipse cx="280" cy="193" rx="20.5" ry="16.5"/><text x="280" y="194">I</text></g>
<g id="p18-K" class="v"><ellipse cx="283" cy="36" rx="20.5" ry="16.5"/><text x="283" y="37">K</text></g>
</g>
</svg>
